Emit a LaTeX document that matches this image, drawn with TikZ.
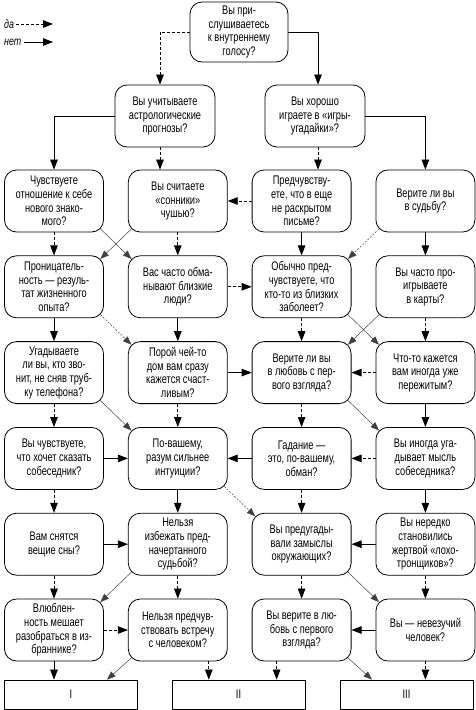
\documentclass[tikz,border=0pt]{standalone}
\usepackage{fontspec}
\setmainfont{Liberation Sans}[FakeStretch=0.74]
\usetikzlibrary{arrows.meta,positioning}
\begin{document}
\begin{tikzpicture}[
  x=1pt, y=-1pt,
  node distance=23pt and 24pt,
  font=\fontsize{12.5}{13.6}\selectfont,
  qbox/.style={draw, line width=0.8pt, rounded corners=12pt, align=center,
    minimum width=99pt, minimum height=62pt, inner sep=2pt},
  res/.style={draw, line width=0.8pt, minimum width=133pt, minimum height=29pt},
  yes/.style={-{Triangle[length=10pt,width=7.5pt]}, line width=0.75pt, dash pattern=on 3pt off 2pt},
  no/.style={-{Triangle[length=10pt,width=7.5pt]}, line width=0.75pt},
  yesd/.style={-{Triangle[length=8.5pt,width=6.5pt]}, line width=0.5pt, draw=black!75,
    dash pattern=on 2pt off 1.5pt},
  nod/.style={-{Triangle[length=8.5pt,width=6.5pt]}, line width=0.5pt, draw=black!75}
]
\useasboundingbox (0,0) rectangle (476,710);
% legend
\node[font=\itshape\fontsize{12}{13}\selectfont, anchor=west, inner sep=1pt] (yeslbl) at (3,24) {да};
\node[font=\itshape\fontsize{12}{13}\selectfont, anchor=west, inner sep=1pt] (nolbl) at (3,42) {нет};
\coordinate (yesend) at (53,24);
\coordinate (noend) at (53,42);
\draw[yes] ([xshift=1pt]yeslbl.east) -- (yesend);
\draw[no] ([xshift=1pt]nolbl.east) -- (noend);

% top levels
\node[qbox, minimum width=98pt, minimum height=60pt] (t) at (239,32) {Вы при-\\слушиваетесь\\к внутреннему\\голосу?};
\node[qbox, minimum width=100pt] (a) at (165,116) {Вы учитываете\\астрологические\\прогнозы?};
\node[qbox, minimum width=100pt] (b) at (315,116) {Вы хорошо\\играете в «игры-\\угадайки»?};

% grid of questions
\node[qbox] (c1) at (54,201) {Чувствуете\\отношение к себе\\нового знако-\\мого?};
\node[qbox, right=of c1] (c2) {Вы считаете\\«сонники»\\чушью?};
\node[qbox, right=of c2] (c3) {Предчувству-\\ете, что в еще\\не раскрытом\\письме?};
\node[qbox, right=of c3] (c4) {Верите ли вы\\в судьбу?};

\node[qbox, below=of c1] (d1) {Проницатель-\\ность — резуль-\\тат жизненного\\опыта?};
\node[qbox, below=of c2] (d2) {Вас часто обма-\\нывают близкие\\люди?};
\node[qbox, below=of c3] (d3) {Обычно пред-\\чувствуете, что\\кто-то из близких\\заболеет?};
\node[qbox, below=of c4] (d4) {Вы часто про-\\игрываете\\в карты?};

\node[qbox, below=of d1] (e1) {Угадываете\\ли вы, кто зво-\\нит, не сняв труб-\\ку телефона?};
\node[qbox, below=of d2] (e2) {Порой чей-то\\дом вам сразу\\кажется счаст-\\ливым?};
\node[qbox, below=of d3] (e3) {Верите ли вы\\в любовь с пер-\\вого взгляда?};
\node[qbox, below=of d4] (e4) {Что-то кажется\\вам иногда уже\\пережитым?};

\node[qbox, below=of e1] (f1) {Вы чувствуете,\\что хочет сказать\\собеседник?};
\node[qbox, below=of e2] (f2) {По-вашему,\\разум сильнее\\интуиции?};
\node[qbox, below=of e3] (f3) {Гадание —\\это, по-вашему,\\обман?};
\node[qbox, below=of e4] (f4) {Вы иногда уга-\\дывает мысль\\собеседника?};

\node[qbox, below=of f1] (g1) {Вам снятся\\вещие сны?};
\node[qbox, below=of f2] (g2) {Нельзя\\избежать пред-\\начертанного\\судьбой?};
\node[qbox, below=of f3] (g3) {Вы предугады-\\вали замыслы\\окружающих?};
\node[qbox, below=of f4] (g4) {Вы нередко\\становились\\жертвой «лохо-\\тронщиков»?};

\node[qbox, below=of g1] (h1) {Влюблен-\\ность мешает\\разобраться в из-\\браннике?};
\node[qbox, below=of g2] (h2) {Нельзя предчув-\\ствовать встречу\\с человеком?};
\node[qbox, below=of g3] (h3) {Вы верите в лю-\\бовь с первого\\взгляда?};
\node[qbox, below=of g4] (h4) {Вы — невезучий\\человек?};

% results
\node[res] (r1) at (71,694.5) {I};
\node[res] (r2) at (238.5,694.5) {II};
\node[res] (r3) at (406.5,694.5) {III};

% top branches
\draw[yes] (t.west) -| ([xshift=-5pt]a.north);
\draw[no] (t.east) -| ([xshift=3pt]b.north);
\draw[no] (a.west) -| (c1.north);
\draw[yes] ([xshift=-5pt]a.south) -- ([xshift=-5pt]a.south |- c2.north);
\draw[yes] ([xshift=3pt]b.south) -- ([xshift=3pt]b.south |- c3.north);
\draw[no] (b.east) -| (c4.north);

% vertical links
\draw[yes] (c1) -- (d1);
\draw[yes] (c2) -- (d2);
\draw[no] (c3) -- (d3);
\draw[no] (c4) -- (d4);
\draw[no] (d1) -- (e1);
\draw[no] (d2) -- (e2);
\draw[yes] (d3) -- (e3);
\draw[yes] (d4) -- (e4);
\draw[yes] (e1) -- (f1);
\draw[yes] (e2) -- (f2);
\draw[yes] (e3) -- (f3);
\draw[no] (e4) -- (f4);
\draw[yes] (f1) -- (g1);
\draw[no] (f2) -- (g2);
\draw[yes] (f3) -- (g3);
\draw[no] (f4) -- (g4);
\draw[yes] (g1) -- (h1);
\draw[yes] (g2) -- (h2);
\draw[yes] (g3) -- (h3);
\draw[yes] (g4) -- (h4);

% horizontal links
\draw[yes] (c3) -- (c2);
\draw[yes] (d2) -- (d3);
\draw[no] (e2) -- (e3);
\draw[yes] (e4) -- (e3);
\draw[no] (f1) -- (f2);
\draw[no] (f3) -- (f2);
\draw[yes] (f4) -- (f3);
\draw[no] (g1) -- (g2);
\draw[no] (g4) -- (g3);
\draw[yes] (h1) -- (h2);
\draw[no] (h4) -- (h3);

% diagonal links
\draw[nod] ([xshift=-3.5pt,yshift=3.5pt]c1.south east) -- ([xshift=3.5pt,yshift=-3.5pt]d2.north west);
\draw[nod] ([xshift=3.5pt,yshift=3.5pt]c2.south west) -- ([xshift=-3.5pt,yshift=-3.5pt]d1.north east);
\draw[yesd] ([xshift=3.5pt,yshift=3.5pt]c4.south west) -- ([xshift=-3.5pt,yshift=-3.5pt]d3.north east);
\draw[yesd] ([xshift=-3.5pt,yshift=3.5pt]d1.south east) -- ([xshift=3.5pt,yshift=-3.5pt]e2.north west);
\draw[nod] ([xshift=-3.5pt,yshift=3.5pt]d3.south east) -- ([xshift=3.5pt,yshift=-3.5pt]e4.north west);
\draw[nod] ([xshift=3.5pt,yshift=3.5pt]d4.south west) -- ([xshift=-3.5pt,yshift=-3.5pt]e3.north east);
\draw[nod] ([xshift=-3.5pt,yshift=3.5pt]e1.south east) -- ([xshift=3.5pt,yshift=-3.5pt]f2.north west);
\draw[nod] ([xshift=-3.5pt,yshift=3.5pt]e3.south east) -- ([xshift=3.5pt,yshift=-3.5pt]f4.north west);
\draw[yesd] ([xshift=-3.5pt,yshift=3.5pt]f2.south east) -- ([xshift=3.5pt,yshift=-3.5pt]g3.north west);
\draw[nod] ([xshift=3.5pt,yshift=3.5pt]g2.south west) -- ([xshift=-3.5pt,yshift=-3.5pt]h1.north east);
\draw[nod] ([xshift=-3.5pt,yshift=3.5pt]g3.south east) -- ([xshift=3.5pt,yshift=-3.5pt]h4.north west);

% to results
\draw[no] (h1) -- (h1 |- r1.north);
\draw[nod] ([xshift=3.5pt,yshift=3.5pt]h2.south west) -- ([xshift=36pt]r1.north);
\draw[yes] ([xshift=31pt]h2.south) -- ([xshift=31pt]h2.south |- r2.north);
\draw[yes] ([xshift=-25pt]h3.south) -- ([xshift=-25pt]h3.south |- r2.north);
\draw[nod] ([xshift=-3.5pt,yshift=3.5pt]h3.south east) -- ([xshift=-34.5pt]r3.north);
\draw[yes] (h4) -- (h4 |- r3.north);
\end{tikzpicture}
\end{document}
